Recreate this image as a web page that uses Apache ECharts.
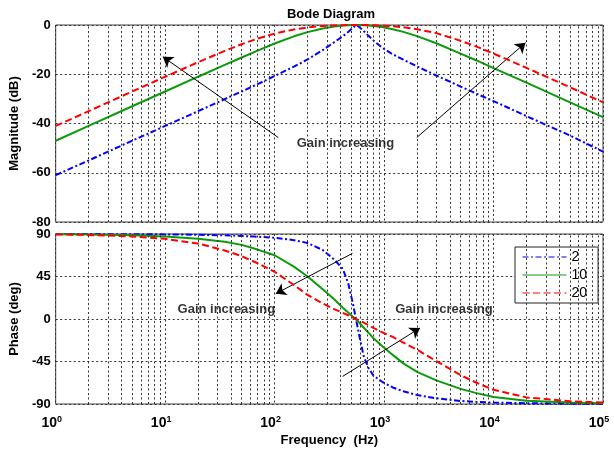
<!DOCTYPE html>
<html>
<head>
<meta charset="utf-8">
<script src="https://cdn.jsdelivr.net/npm/echarts@6/dist/echarts.min.js"></script>
<style>
  html, body { margin: 0; padding: 0; background: #fff; }
  #chart { width: 614px; height: 450px; }
</style>
</head>
<body>
<div id="chart"></div>
<script>
// Frequency samples (Hz) shared by every curve
const freqHz = [1, 2, 5, 10, 20, 35, 50, 70, 100, 150, 200, 275, 350, 420, 470, 520, 560,
  600, 650, 720, 800, 960, 1200, 1500, 2000, 3000, 5000, 7000, 10000, 20000, 50000, 100000];

// Magnitude (dB) for each gain
const magGain2 = [-61.0, -55.0, -47.0, -41.0, -35.0, -30.1, -27.0, -24.0, -20.7, -16.9, -14.0, -10.2, -7.0,
  -4.6, -2.8, -1.1, 0, -1.0, -2.4, -4.4, -6.3, -9.2, -11.9, -14.1, -16.8, -20.5, -25.0, -27.9, -30.9,
  -37.0, -44.9, -51.4];
const magGain10 = [-47.0, -41.0, -33.0, -27.0, -21.0, -16.2, -13.2, -10.4, -7.5, -4.6, -2.9, -1.4, -0.6,
  -0.23, -0.09, -0.02, 0, 0, -0.06, -0.2, -0.4, -0.85, -1.7, -2.8, -4.5, -7.4, -11.6, -14.4, -17.5,
  -23.4, -31.4, -37.4];
const magGain20 = [-41.0, -35.0, -27.0, -21.0, -15.1, -10.5, -7.8, -5.5, -3.5, -1.8, -1.0, -0.4, -0.16,
  -0.06, -0.02, 0, 0, 0, -0.01, -0.04, -0.09, -0.25, -0.5, -0.9, -1.7, -3.3, -6.4, -8.8, -11.6,
  -17.4, -25.3, -31.4];

// Phase (deg) for each gain
const phaseGain2 = [89.9, 89.9, 89.8, 89.6, 89.2, 88.6, 88.0, 87.1, 86.0, 83.5, 80.5, 73.0, 63.0, 53.0,
  38.0, 16.0, -3.0, -20.0, -39.0, -52.0, -60.0, -66.5, -72.5, -76.5, -80.5, -84.0, -86.8, -87.8,
  -88.5, -89.2, -89.7, -89.9];
const phaseGain10 = [89.7, 89.5, 88.7, 87.4, 84.9, 81.8, 78.5, 73.5, 67.5, 55.5, 45.0, 31.5, 21.0, 12.0,
  7.0, 2.5, -1.0, -4.5, -9.0, -14.5, -20.5, -28.5, -38.0, -47.0, -56.0, -65.0, -74.0, -78.5,
  -82.5, -86.5, -88.5, -89.3];
const phaseGain20 = [89.5, 89.0, 87.4, 84.9, 79.9, 72.6, 66.5, 59.0, 50.0, 36.0, 25.5, 16.5, 10.5, 6.5,
  4.0, 1.5, -0.3, -1.8, -3.8, -6.5, -9.5, -14.0, -19.0, -25.0, -32.5, -44.5, -59.5, -67.5,
  -75.0, -83.0, -87.0, -88.5];

const gainNames = ['2', '10', '20'];

// Axis ticks
const magTicks = [0, -20, -40, -60, -80];
const phaseTicks = [-90, -45, 0, 45, 90];
const freqDecades = [0, 1, 2, 3, 4, 5];

// Annotation arrows: [tail, head] in data units
const magArrows = [
  [[108, -45.7], [9.52, -12.9]],
  [[1988, -45.7], [19600, -7.2]]
];
const phaseArrows = [
  [[514, 69.5], [102.5, 26.8]],
  [[418, -60.8], [2130, -9.5]]
];
const magNotes = [[444, -48.1, 'Gain increasing']];
const phaseNotes = [[36.2, 10.6, 'Gain increasing'], [3524, 10.6, 'Gain increasing']];

const FONT = 'Liberation Sans, Arial, sans-serif';
const colors = ['#0000ff', '#0c9a0c', '#ff0000'];
const dashes = [[6, 2.5, 2, 2.5], 'solid', [7, 3.5]];
const gridDot = { color: '#333', width: 1, type: [2, 2.5] };

// intermediate log grid lines 2..9 x 10^k
const minorFreqs = [];
for (let d = 0; d < freqDecades.length - 1; d++) {
  for (let m = 2; m <= 9; m++) minorFreqs.push(m * Math.pow(10, freqDecades[d]));
}

const pairs = (ys) => freqHz.map((f, i) => [f, ys[i]]);

function curve(name, ys, idx, axis) {
  return {
    name: name, type: 'line', xAxisIndex: axis, yAxisIndex: axis,
    data: pairs(ys), symbol: 'none', showSymbol: false,
    lineStyle: { color: colors[idx], width: 2, type: dashes[idx] },
    itemStyle: { color: colors[idx] },
    z: 3 + idx
  };
}

function minorGrid(axis) {
  return {
    type: 'line', xAxisIndex: axis, yAxisIndex: axis, data: [], silent: true,
    markLine: {
      silent: true, symbol: 'none', label: { show: false },
      lineStyle: gridDot,
      data: minorFreqs.map(f => ({ xAxis: f }))
    },
    z: 1
  };
}

function arrows(axis, list) {
  return {
    type: 'line', xAxisIndex: axis, yAxisIndex: axis, data: [], silent: true,
    markLine: {
      silent: true, symbol: ['none', 'arrow'], symbolSize: 10,
      label: { show: false },
      lineStyle: { color: '#000', width: 1, type: 'solid' },
      itemStyle: { color: '#000' },
      emphasis: { disabled: true },
      data: list.map(a => [{ coord: a[0] }, { coord: a[1] }])
    },
    z: 8
  };
}

function notes(axis, list) {
  return {
    type: 'scatter', xAxisIndex: axis, yAxisIndex: axis, silent: true,
    symbolSize: 0, data: list,
    itemStyle: { color: '#000' },
    label: {
      show: true, position: 'inside', color: '#000',
      textBorderWidth: 0, textShadowBlur: 0,
      fontFamily: FONT, fontSize: 13, fontWeight: 'bold',
      formatter: p => p.value[2]
    },
    z: 9
  };
}

const tickLabel = { color: '#000', fontFamily: FONT, fontSize: 13, fontWeight: 'bold' };
const nameStyle = { color: '#000', fontFamily: FONT, fontSize: 13, fontWeight: 'bold' };

const chart = echarts.init(document.getElementById('chart'), null, { renderer: 'canvas' });
chart.setOption({
  animation: false,
  backgroundColor: '#fff',
  title: {
    text: 'Bode Diagram', left: 326, top: 3, textAlign: 'center',
    textStyle: { color: '#000', fontFamily: FONT, fontSize: 13, fontWeight: 'bold' }
  },
  legend: {
    orient: 'vertical', left: 515, top: 247,
    data: gainNames,
    backgroundColor: '#fff', borderColor: '#222', borderWidth: 1,
    padding: [3, 11, 3, 7], itemGap: 4, itemWidth: 44, itemHeight: 14,
    lineStyle: { width: 1 },
    itemStyle: { opacity: 0 },
    textStyle: { color: '#000', fontFamily: FONT, fontSize: 14 },
    selectedMode: false
  },
  grid: [
    { left: 50, top: 25, width: 553, height: 197, show: true, borderColor: '#444', borderWidth: 1 },
    { left: 50, top: 234, width: 553, height: 170, show: true, borderColor: '#444', borderWidth: 1 }
  ],
  xAxis: [
    {
      type: 'log', logBase: 10, gridIndex: 0, min: 1, max: 100000,
      axisLine: { show: false }, axisTick: { show: false }, axisLabel: { show: false },
      splitLine: { show: true, lineStyle: gridDot }
    },
    {
      type: 'log', logBase: 10, gridIndex: 1, min: 1, max: 100000,
      name: 'Frequency  (Hz)', nameLocation: 'middle', nameGap: 30, nameTextStyle: nameStyle,
      axisLine: { show: false }, axisTick: { show: false },
      splitLine: { show: true, lineStyle: gridDot },
      axisLabel: {
        margin: 11,
        padding: [0, 8, 0, 0],
        formatter: v => '{b|10}{e|' + Math.round(Math.log10(v)) + '}',
        rich: {
          b: { fontFamily: FONT, fontSize: 14, fontWeight: 'bold', color: '#000', lineHeight: 16 },
          e: { fontFamily: FONT, fontSize: 9, fontWeight: 'bold', color: '#000', lineHeight: 9, verticalAlign: 'top' }
        }
      }
    }
  ],
  yAxis: [
    {
      type: 'value', gridIndex: 0, min: magTicks[magTicks.length - 1], max: magTicks[0], interval: 20,
      name: 'Magnitude (dB)', nameLocation: 'middle', nameGap: 29, nameTextStyle: nameStyle,
      axisLine: { show: false }, axisTick: { show: false },
      axisLabel: Object.assign({ margin: 5 }, tickLabel),
      splitLine: { show: true, lineStyle: gridDot }
    },
    {
      type: 'value', gridIndex: 1, min: phaseTicks[0], max: phaseTicks[phaseTicks.length - 1], interval: 45,
      name: 'Phase (deg)', nameLocation: 'middle', nameGap: 29, nameTextStyle: nameStyle,
      axisLine: { show: false }, axisTick: { show: false },
      axisLabel: Object.assign({ margin: 5 }, tickLabel),
      splitLine: { show: true, lineStyle: gridDot }
    }
  ],
  series: [
    minorGrid(0), minorGrid(1),
    curve(gainNames[0], magGain2, 0, 0),
    curve(gainNames[1], magGain10, 1, 0),
    curve(gainNames[2], magGain20, 2, 0),
    curve(gainNames[0], phaseGain2, 0, 1),
    curve(gainNames[1], phaseGain10, 1, 1),
    curve(gainNames[2], phaseGain20, 2, 1),
    arrows(0, magArrows), arrows(1, phaseArrows),
    notes(0, magNotes), notes(1, phaseNotes)
  ]
});
</script>
</body>
</html>
